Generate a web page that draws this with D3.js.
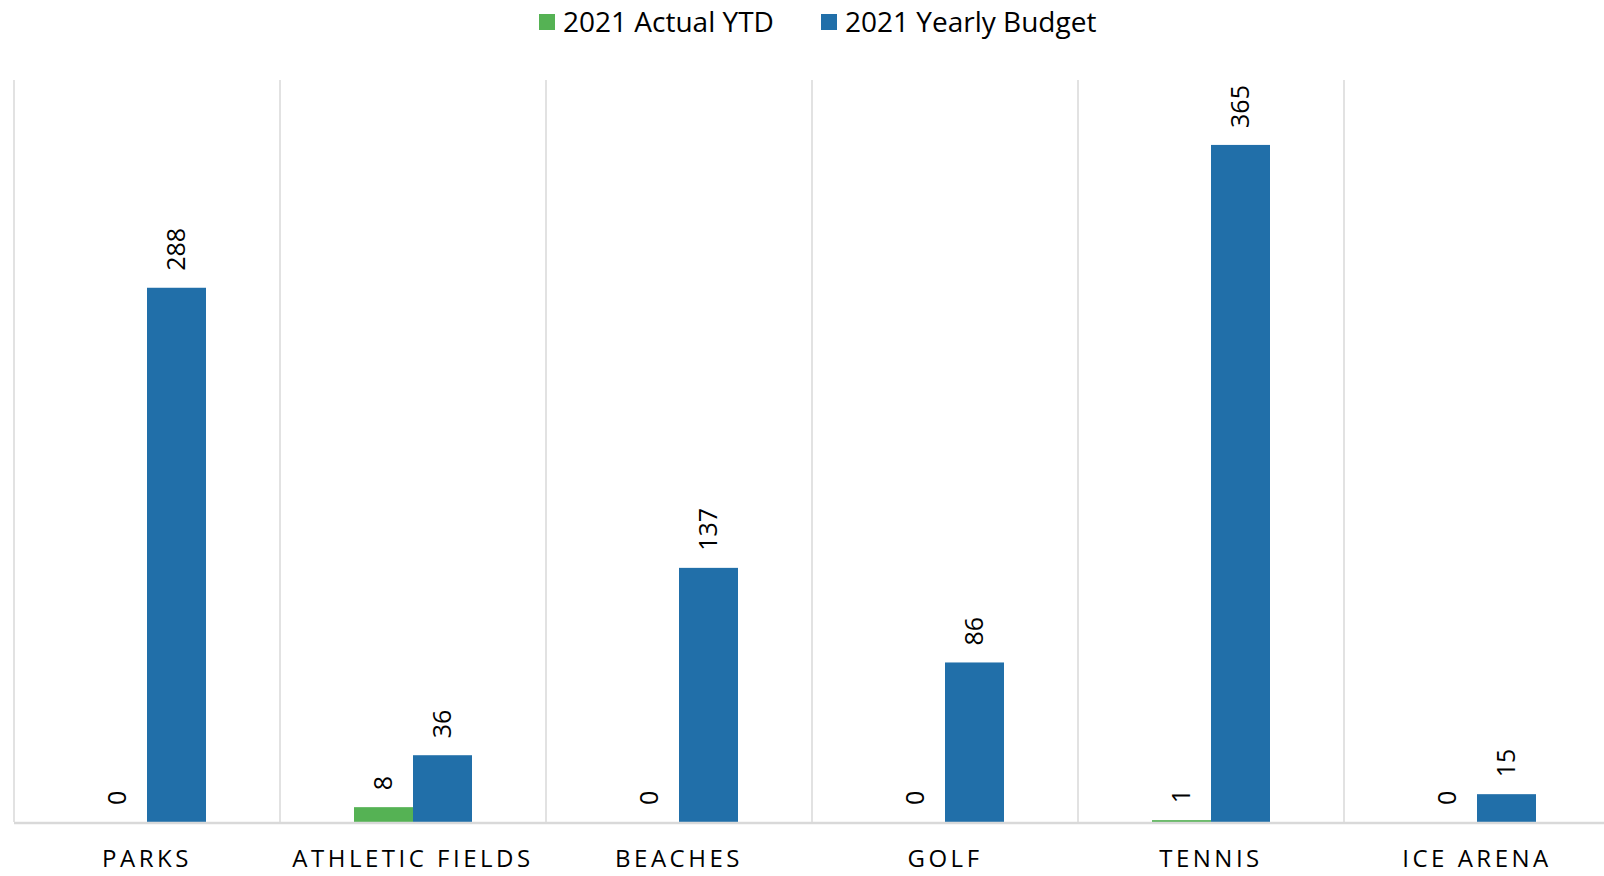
<!DOCTYPE html>
<html>
<head>
<meta charset="utf-8">
<script src="https://cdn.jsdelivr.net/npm/d3@7"></script>
<style>
  body { margin: 0; background: #fff; overflow: hidden; }
  text { font-family: "Open Sans", "Noto Sans", sans-serif; fill: #000; }
</style>
</head>
<body>
<div id="chart"></div>
<script>
var categories = ["PARKS", "ATHLETIC FIELDS", "BEACHES", "GOLF", "TENNIS", "ICE ARENA"];
var seriesNames = ["2021 Actual YTD", "2021 Yearly Budget"];
var actualYTD = [0, 8, 0, 0, 1, 0];
var yearlyBudget = [288, 36, 137, 86, 365, 15];
var colors = ["#55b254", "#216fa9"];

var width = 1604, height = 876;
var margin = { top: 80, left: 14, bottom: 54 };
var plotW = 266 * categories.length;
var baseY = height - margin.bottom;

var svg = d3.select("#chart").append("svg")
	.attr("width", width)
	.attr("height", height);

var x0 = d3.scaleBand()
	.domain(categories)
	.range([margin.left, margin.left + plotW])
	.padding(0);

var barW = 59;
var x1 = d3.scaleBand()
	.domain(seriesNames)
	.range([x0.bandwidth() / 2 - barW, x0.bandwidth() / 2 + barW]);

var y = d3.scaleLinear()
	.domain([0, 400])
	.range([baseY, margin.top]);

var data = [];
categories.forEach(function(c, i) {
	data.push({ cat: c, s: seriesNames[0], v: actualYTD[i], color: colors[0] });
	data.push({ cat: c, s: seriesNames[1], v: yearlyBudget[i], color: colors[1] });
});

// vertical separators
svg.selectAll(".sep")
	.data(categories)
	.enter().append("line")
	.attr("x1", function(d) { return x0(d); })
	.attr("x2", function(d) { return x0(d); })
	.attr("y1", margin.top)
	.attr("y2", baseY)
	.attr("stroke", "#d9d9d9")
	.attr("stroke-width", 1.5);

// bars
svg.selectAll(".bar")
	.data(data)
	.enter().append("rect")
	.attr("class", "bar")
	.attr("x", function(d) { return x0(d.cat) + x1(d.s); })
	.attr("width", x1.bandwidth())
	.attr("y", function(d) { return y(d.v); })
	.attr("height", function(d) { return baseY - y(d.v); })
	.attr("fill", function(d) { return d.color; });

// axis line
svg.append("line")
	.attr("x1", margin.left)
	.attr("x2", margin.left + plotW)
	.attr("y1", baseY + 1)
	.attr("y2", baseY + 1)
	.attr("stroke", "#d9d9d9")
	.attr("stroke-width", 2.5);

// value labels (rotated)
svg.selectAll(".val")
	.data(data)
	.enter().append("text")
	.attr("class", "val")
	.attr("transform", function(d) {
		var cx = x0(d.cat) + x1(d.s) + x1.bandwidth() / 2;
		return "translate(" + cx + "," + (y(d.v) - 17) + ") rotate(-90)";
	})
	.attr("dy", "0.35em")
	.style("font-size", "25px")
	.style("text-anchor", "start")
	.text(function(d) { return d.v; });

// category labels
svg.selectAll(".cat")
	.data(categories)
	.enter().append("text")
	.attr("class", "cat")
	.attr("x", function(d) { return x0(d) + x0.bandwidth() / 2; })
	.attr("y", 859)
	.attr("dy", "0.35em")
	.style("font-size", "24px")
	.style("letter-spacing", "3.5px")
	.style("text-anchor", "middle")
	.text(function(d) { return d; });

// legend
var legendX = [539, 821];
var legend = svg.selectAll(".legend")
	.data(seriesNames)
	.enter().append("g")
	.attr("class", "legend")
	.attr("transform", function(d, i) { return "translate(" + legendX[i] + ",22)"; });

legend.append("rect")
	.attr("x", 0)
	.attr("y", -8)
	.attr("width", 16)
	.attr("height", 16)
	.attr("fill", function(d, i) { return colors[i]; });

legend.append("text")
	.attr("x", 24)
	.attr("dy", "0.35em")
	.style("font-size", "28px")
	.text(function(d) { return d; });
</script>
</body>
</html>
